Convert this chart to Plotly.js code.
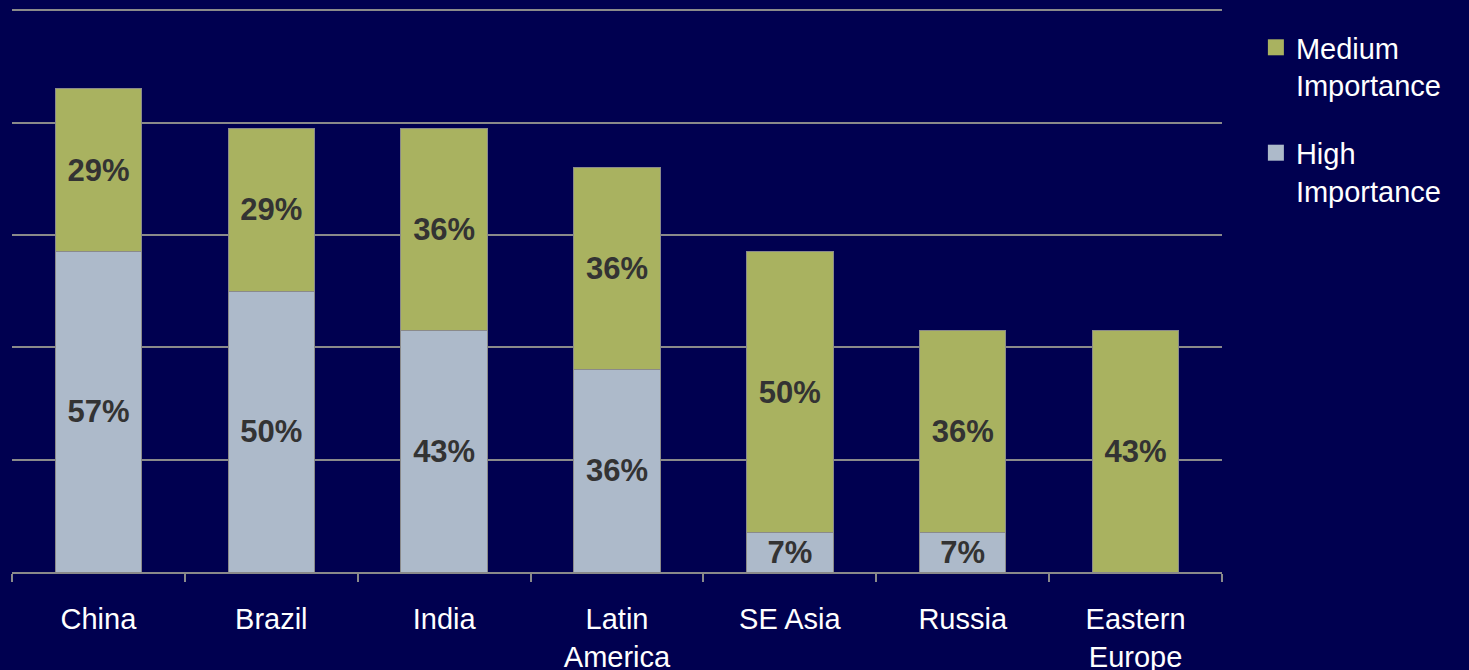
<!DOCTYPE html>
<html>
<head>
<meta charset="utf-8">
<script src="https://cdn.plot.ly/plotly-3.0.1.min.js"></script>
<style>html,body{margin:0;padding:0;background:#000050;}#chart{width:1469px;height:670px;}</style>
</head>
<body>
<div id="chart"></div>
<script>
const categories = ["China", "Brazil", "India", "Latin<br>America", "SE Asia", "Russia", "Eastern<br>Europe"];
const highImportance = [57, 50, 43, 36, 7, 7, 0];
const mediumImportance = [29, 29, 36, 36, 50, 36, 43];
const seriesNames = ["High<br>Importance", "Medium<br>Importance"];
const seriesColors = ["#ADBACA", "#A9B260"];

const FONT = "Arial, 'Liberation Sans', sans-serif";
const labelFont = {family: FONT, size: 31, color: "#333333", weight: "bold"};

const traces = [
  {
    type: "bar", name: seriesNames[0], x: categories, y: highImportance, showlegend: false,
    marker: {color: seriesColors[0], line: {color: "#8a8a8a", width: 1}},
    text: highImportance.map(v => v > 0 ? v + "%" : ""),
    textposition: "inside", insidetextanchor: "middle", constraintext: "none",
    textfont: labelFont, hoverinfo: "skip"
  },
  {
    type: "bar", name: seriesNames[1], x: categories, y: mediumImportance, showlegend: false,
    marker: {color: seriesColors[1], line: {color: "#8a8a8a", width: 1}},
    text: mediumImportance.map(v => v > 0 ? v + "%" : ""),
    textposition: "inside", insidetextanchor: "middle", constraintext: "none",
    textfont: labelFont, hoverinfo: "skip"
  },
  // legend entries
  {
    type: "scatter", mode: "markers", name: seriesNames[1], x: [null], y: [null],
    legendgroup: "m", legendrank: 1,
    marker: {symbol: "square", size: 16, color: seriesColors[1]}, hoverinfo: "skip"
  },
  {
    type: "scatter", mode: "markers", name: seriesNames[0], x: [null], y: [null],
    legendgroup: "h", legendrank: 2,
    marker: {symbol: "square", size: 16, color: seriesColors[0]}, hoverinfo: "skip"
  }
];

const layout = {
  width: 1469, height: 670,
  paper_bgcolor: "#000050", plot_bgcolor: "#000050",
  margin: {l: 12, r: 247, t: 9, b: 98},
  barmode: "stack", bargap: 0.5,
  font: {family: FONT, color: "#ffffff", size: 30},
  showlegend: true,
  legend: {
    x: 1.028, xanchor: "left", y: 0.977, yanchor: "top", valign: "top",
    traceorder: "grouped", tracegroupgap: 27,
    font: {family: FONT, size: 29, color: "#ffffff"}, bgcolor: "rgba(0,0,0,0)"
  },
  xaxis: {
    type: "category", tickson: "boundaries", ticks: "outside", ticklen: 8, tickwidth: 2,
    tickcolor: "#8a8a8a", showline: true, linecolor: "#8a8a8a", linewidth: 2,
    tickfont: {family: FONT, size: 29, color: "#ffffff"}, ticklabelstandoff: 20,
    showgrid: false, fixedrange: true
  },
  yaxis: {
    range: [0, 100.2], tickvals: [20, 40, 60, 80, 100], showticklabels: false, showgrid: true,
    gridcolor: "#8a8a8a", gridwidth: 2, zeroline: false, fixedrange: true
  }
};

Plotly.newPlot("chart", traces, layout, {displayModeBar: false, staticPlot: true});
</script>
</body>
</html>
